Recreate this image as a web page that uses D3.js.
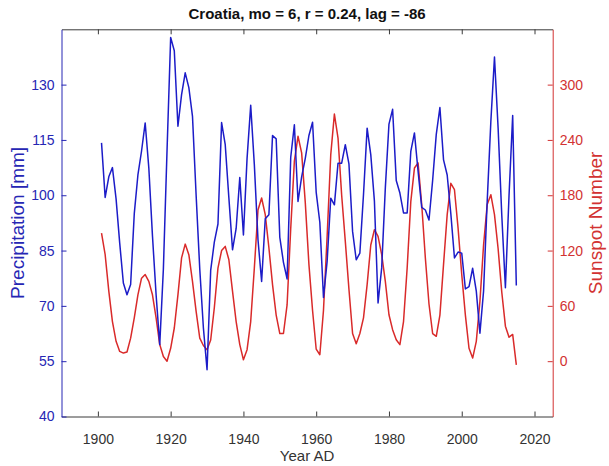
<!DOCTYPE html>
<html>
<head>
<meta charset="utf-8">
<script src="https://cdn.jsdelivr.net/npm/d3@7"></script>
<style>
  body { margin: 0; background: #fff; }
  text { font-family: "Liberation Sans", Arial, Helvetica, sans-serif; }
</style>
</head>
<body>
<svg id="chart" width="609" height="466"></svg>
<script>
// ---- data -------------------------------------------------------------
const titleText = "Croatia, mo = 6, r = 0.24, lag = -86";
const years = d3.range(1901, 2016); // one value per year, 1901-2015

// June precipitation [mm]
const precipitation = [
  114.2, 99.4, 105.0, 107.5, 99.0, 87.0, 76.2, 73.0, 75.8, 95.0,
  105.5, 112.0, 119.6, 107.4, 89.0, 73.0, 59.5, 80.0, 112.0, 142.8,
  139.2, 118.7, 127.3, 133.2, 129.2, 121.4, 100.0, 80.0, 64.0, 52.7,
  79.6, 87.3, 92.2, 119.7, 113.7, 99.3, 85.2, 91.0, 104.8, 89.2,
  110.0, 124.4, 108.3, 88.0, 76.6, 93.6, 94.7, 116.2, 115.3, 88.6,
  81.8, 77.3, 110.3, 119.1, 98.3, 105.0, 110.0, 116.2, 119.8, 100.8,
  92.6, 72.3, 82.0, 99.2, 97.4, 108.7, 108.7, 113.7, 108.5, 90.2,
  82.5, 84.3, 100.2, 118.2, 111.0, 98.4, 70.8, 80.3, 102.0, 119.3,
  123.3, 104.0, 100.6, 95.2, 95.2, 111.9, 116.9, 106.5, 96.7, 96.0,
  93.3, 104.0, 116.5, 123.8, 109.6, 105.5, 95.0, 83.0, 84.6, 84.3,
  74.6, 75.2, 80.2, 74.0, 62.6, 74.0, 98.4, 120.0, 137.5, 118.2,
  94.7, 74.9, 100.0, 121.6, 75.5
];

// Lagged sunspot number
const sunspots = [
  139, 115.5, 76, 43, 21.5, 10.6, 8.8, 10, 25, 47,
  72, 90, 94, 86.6, 72, 47, 18, 5, 0, 14,
  36, 72, 112, 127, 115.5, 86.6, 54, 25, 17, 12.5,
  23, 58, 101, 120, 124.5, 110, 76, 43, 18, 1.6,
  12.5, 43, 101, 164, 177, 159, 123, 83, 50, 30,
  30, 61, 144, 217, 244, 226, 172, 105, 55, 13,
  7, 55, 135, 224, 268, 242, 180, 130, 78, 30,
  19, 30, 47, 83, 126, 142.6, 135.4, 115.5, 86.6, 50.4,
  34.2, 23.3, 18, 43, 101, 173, 209.5, 215, 170, 112,
  62, 30, 27, 50, 105, 159, 193, 186, 144, 94,
  50, 14, 3.4, 21.5, 65, 126, 170, 180.6, 159, 122,
  75, 38, 26, 29, -4
];

const xTicks = [1900, 1920, 1940, 1960, 1980, 2000, 2020];
const precipTicks = [40, 55, 70, 85, 100, 115, 130];
const sunspotTicks = [0, 60, 120, 180, 240, 300];

// ---- layout -----------------------------------------------------------
const W = 609, H = 466;
const plot = { left: 61.5, right: 552.7, top: 29.3, bottom: 416.5 };

const blue = "#1c1cc8";
const red = "#d92a2a";
const axisBlue = "#2626b4";
const axisRed = "#d23232";
const axisGray = "#3a3a3a";

const x = d3.scaleLinear().domain([1890, 2025]).range([plot.left, plot.right]);
const yL = d3.scaleLinear().domain([40, 145]).range([plot.bottom, plot.top]);
const yR = d3.scaleLinear().domain([-60, 360]).range([plot.bottom, plot.top]);

const svg = d3.select("#chart");
svg.append("rect").attr("width", W).attr("height", H).attr("fill", "#fff");

// lines
const precipLine = d3.line().x((d, i) => x(years[i])).y(d => yL(d));
const sunLine = d3.line().x((d, i) => x(years[i])).y(d => yR(d));

svg.append("path").datum(sunspots)
  .attr("d", sunLine).attr("fill", "none")
  .attr("stroke", red).attr("stroke-width", 1.5).attr("stroke-linejoin", "round");

svg.append("path").datum(precipitation)
  .attr("d", precipLine).attr("fill", "none")
  .attr("stroke", blue).attr("stroke-width", 1.5).attr("stroke-linejoin", "round");

// bottom axis
const gx = svg.append("g").attr("transform", `translate(0,${plot.bottom})`)
  .call(d3.axisBottom(x).tickValues(xTicks).tickFormat(d3.format("d"))
    .tickSizeInner(-5).tickSizeOuter(0).tickPadding(18));
gx.select(".domain").attr("stroke", axisGray);
gx.selectAll(".tick line").attr("stroke", axisGray);
gx.selectAll(".tick text").attr("fill", "#333").attr("font-size", 14)
  .attr("font-family", "Liberation Sans, Arial, sans-serif");

// top axis (ticks only)
const gt = svg.append("g").attr("transform", `translate(0,${plot.top})`)
  .call(d3.axisTop(x).tickValues(xTicks).tickFormat("")
    .tickSizeInner(-5).tickSizeOuter(0));
gt.select(".domain").attr("stroke", axisGray);
gt.selectAll(".tick line").attr("stroke", axisGray);

// left axis
const gl = svg.append("g").attr("transform", `translate(${plot.left},0)`)
  .call(d3.axisLeft(yL).tickValues(precipTicks)
    .tickSizeInner(-5).tickSizeOuter(0).tickPadding(7));
gl.select(".domain").attr("stroke", axisBlue);
gl.selectAll(".tick line").attr("stroke", axisBlue);
gl.selectAll(".tick text").attr("fill", axisBlue).attr("font-size", 14)
  .attr("font-family", "Liberation Sans, Arial, sans-serif");

// right axis
const gr = svg.append("g").attr("transform", `translate(${plot.right},0)`)
  .call(d3.axisRight(yR).tickValues(sunspotTicks)
    .tickSizeInner(-5).tickSizeOuter(0).tickPadding(7));
gr.select(".domain").attr("stroke", axisRed);
gr.selectAll(".tick line").attr("stroke", axisRed);
gr.selectAll(".tick text").attr("fill", axisRed).attr("font-size", 14)
  .attr("font-family", "Liberation Sans, Arial, sans-serif");

// title and labels
svg.append("text").attr("x", (plot.left + plot.right) / 2).attr("y", 19)
  .attr("text-anchor", "middle").attr("font-size", 15).attr("font-weight", "bold")
  .attr("fill", "#111").text(titleText);

svg.append("text").attr("x", (plot.left + plot.right) / 2).attr("y", 461)
  .attr("text-anchor", "middle").attr("font-size", 15).attr("fill", "#333")
  .text("Year AD");

const midY = (plot.top + plot.bottom) / 2;
svg.append("text")
  .attr("transform", `translate(24,${midY}) rotate(-90)`)
  .attr("text-anchor", "middle").attr("font-size", 19).attr("fill", axisBlue)
  .text("Precipitation [mm]");

svg.append("text")
  .attr("transform", `translate(602,${midY}) rotate(-90)`)
  .attr("text-anchor", "middle").attr("font-size", 19).attr("fill", axisRed)
  .text("Sunspot Number");
</script>
</body>
</html>
